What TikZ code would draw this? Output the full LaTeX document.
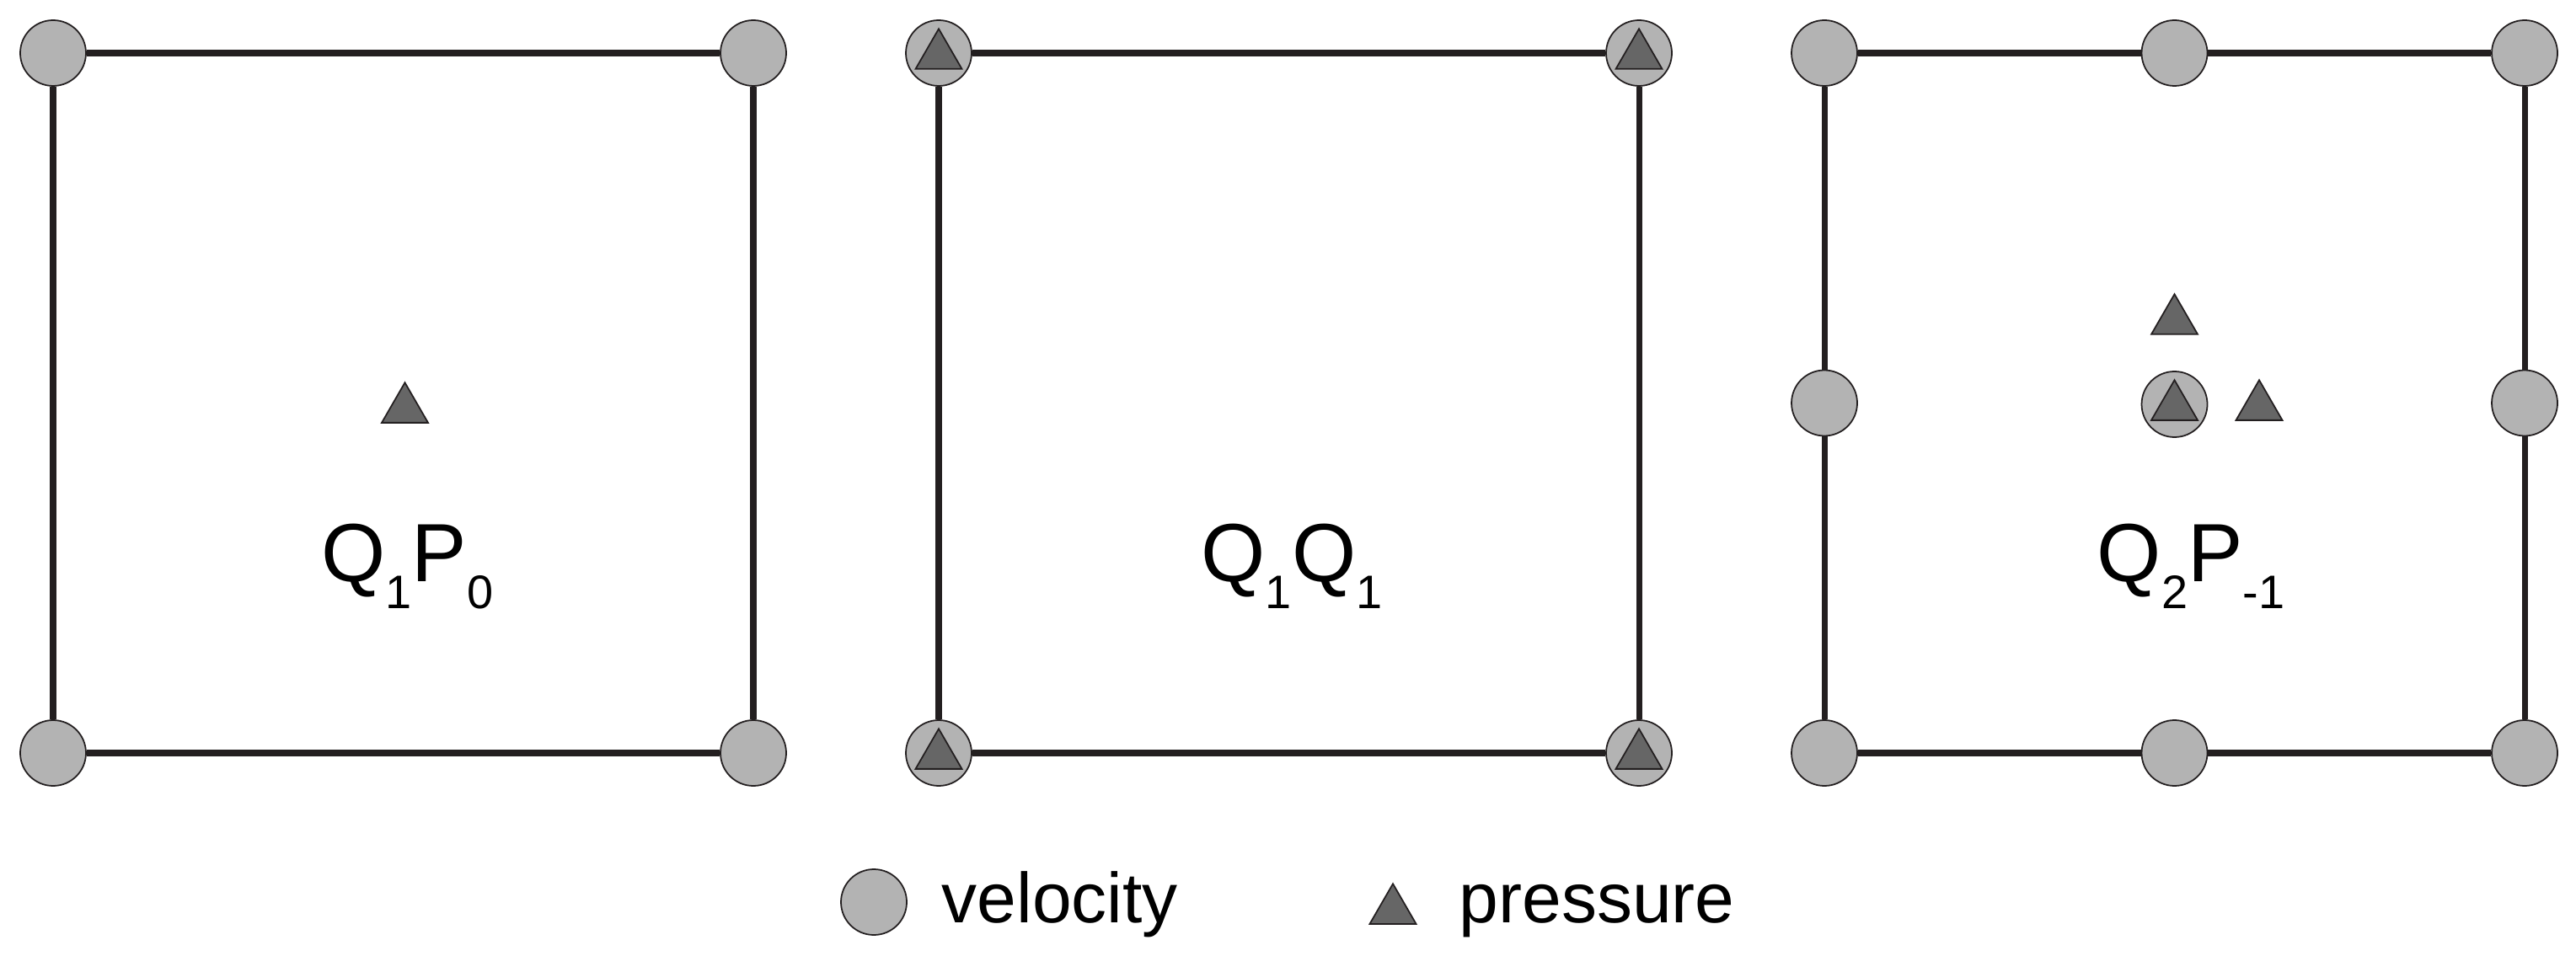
\documentclass[tikz,border=0pt]{standalone}
\usepackage{fontspec}
\setmainfont{Liberation Sans}
\usetikzlibrary{shapes.geometric}
\definecolor{mygray}{HTML}{B3B3B3}
\definecolor{mydark}{HTML}{666666}
\definecolor{myline}{HTML}{231F20}
\newcommand{\lowsub}[1]{\raisebox{-0.32cm}{\fontsize{15.9}{16}\selectfont #1}}

\begin{document}
\begin{tikzpicture}[th/.style = {line width = 2pt, color = myline},
		vel/.style = {circle, draw = myline, line width = 0.5pt, fill = mygray, minimum size = 0.78cm, inner sep = 0pt},
		pre/.style = {regular polygon, regular polygon sides = 3, draw = myline, line width = 0.5pt, fill = mydark, minimum size = 0.635cm, inner sep = 0pt},
		lab/.style = {anchor = base, inner sep = 0pt, font = \fontsize{27.9}{28}\selectfont},
		leg/.style = {anchor = base west, inner sep = 0pt, font = \fontsize{23.9}{24}\selectfont}]
		\useasboundingbox (-0.63,-2.40) rectangle (29.94,8.94);

		\node[vel] (a1) at (0,0) {};
		\node[vel] (a2) at (8.31,0) {};
		\node[vel] (a3) at (8.31,8.31) {};
		\node[vel] (a4) at (0,8.31) {};
		\draw[th] (a1) -- (a2);
		\draw[th] (a2) -- (a3);
		\draw[th] (a3) -- (a4);
		\draw[th] (a4) -- (a1);
		\node[pre] (ap) at (4.175,4.08) {};
		\node[lab] (al) at (4.205,2.04) {Q\lowsub{1}P\lowsub{0}};

		\begin{scope}[xshift = 10.51cm]
		\node[vel] (b1) at (0,0) {};
		\node[vel] (b2) at (8.31,0) {};
		\node[vel] (b3) at (8.31,8.31) {};
		\node[vel] (b4) at (0,8.31) {};
		\draw[th] (b1) -- (b2);
		\draw[th] (b2) -- (b3);
		\draw[th] (b3) -- (b4);
		\draw[th] (b4) -- (b1);
		\node[pre] (bp1) at (0,-0.03) {};
		\node[pre] (bp2) at (8.31,-0.03) {};
		\node[pre] (bp3) at (8.31,8.28) {};
		\node[pre] (bp4) at (0,8.28) {};
		\node[lab] (bl) at (4.19,2.04) {Q\lowsub{1}Q\lowsub{1}};
		\end{scope}

		\begin{scope}[xshift = 21.02cm]
		\node[vel] (c1) at (0,0) {};
		\node[vel] (c2) at (4.155,0) {};
		\node[vel] (c3) at (8.31,0) {};
		\node[vel] (c4) at (8.31,4.155) {};
		\node[vel] (c5) at (8.31,8.31) {};
		\node[vel] (c6) at (4.155,8.31) {};
		\node[vel] (c7) at (0,8.31) {};
		\node[vel] (c8) at (0,4.155) {};
		\draw[th] (c1) -- (c2);
		\draw[th] (c2) -- (c3);
		\draw[th] (c3) -- (c4);
		\draw[th] (c4) -- (c5);
		\draw[th] (c5) -- (c6);
		\draw[th] (c6) -- (c7);
		\draw[th] (c7) -- (c8);
		\draw[th] (c8) -- (c1);
		\node[vel] (c9) at (4.155,4.14) {};
		\node[pre] (cp1) at (4.155,4.11) {};
		\node[pre] (cp2) at (4.155,5.13) {};
		\node[pre] (cp3) at (5.16,4.11) {};
		\node[lab] (cl) at (4.35,2.04) {Q\lowsub{2}P\lowsub{-1}};
		\end{scope}

		\node[vel] (lv) at (9.74,-1.77) {};
		\node[leg] (lvt) at (10.54,-2.01) {velocity};
		\node[pre] (lp) at (15.90,-1.87) {};
		\node[leg] (lpt) at (16.68,-2.01) {pressure};
	\end{tikzpicture}
\end{document}
